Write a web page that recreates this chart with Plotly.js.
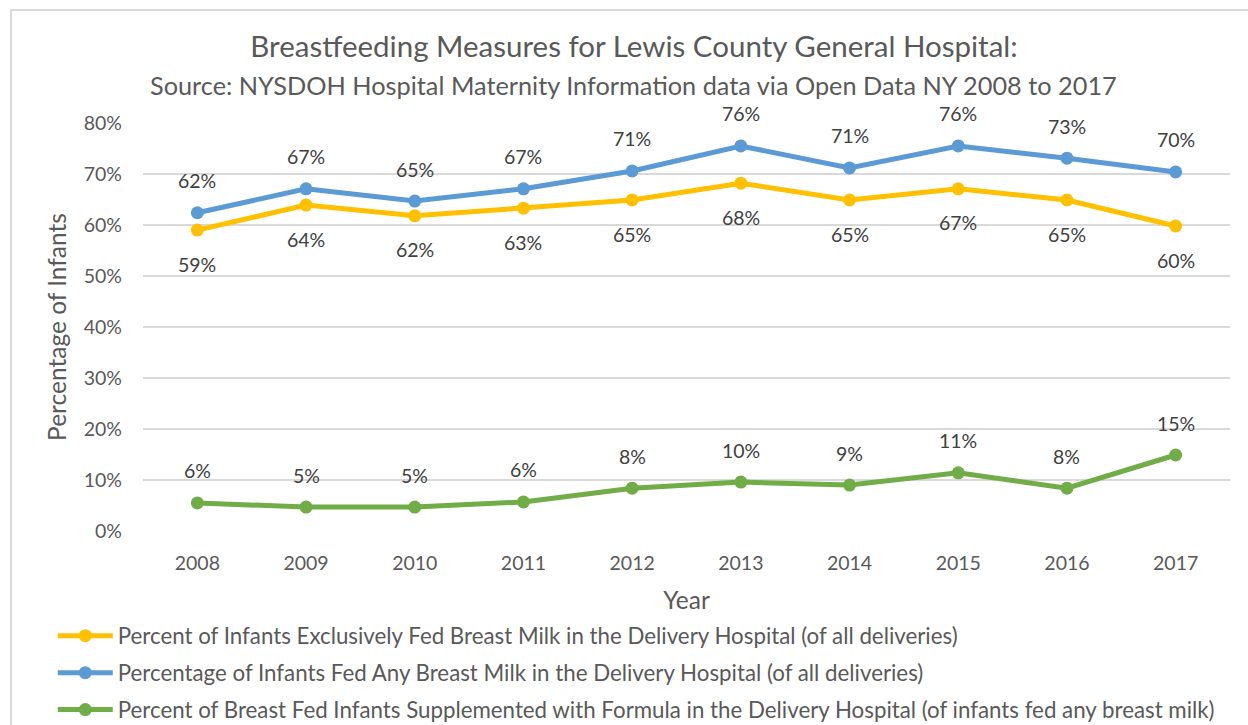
<!DOCTYPE html>
<html>
<head>
<meta charset="utf-8">
<script src="https://cdn.plot.ly/plotly-3.0.1.min.js"></script>
<style>
  body { margin: 0; background: white; }
  #chart { width: 1248px; height: 725px; position: absolute; left: 0; top: 0; }
  #frame { position: absolute; left: 10px; top: 9px; width: 1300px; height: 800px;
           border-left: 2px solid #d9d9d9; border-top: 2px solid #d9d9d9; pointer-events: none; }
</style>
</head>
<body>
<div id="chart"></div>
<div id="frame"></div>
<script>
const years = ['2008', '2009', '2010', '2011', '2012', '2013', '2014', '2015', '2016', '2017'];

const exclusiveName = 'Percent of Infants Exclusively Fed Breast Milk in the Delivery Hospital (of all deliveries)';
const anyName = 'Percentage of Infants Fed Any Breast Milk in the Delivery Hospital (of all deliveries)';
const supplName = 'Percent of Breast Fed Infants Supplemented with Formula in the Delivery Hospital (of infants fed any breast milk)';

const exclusive = [0.590, 0.639, 0.618, 0.633, 0.649, 0.682, 0.649, 0.671, 0.649, 0.598];
const anyMilk = [0.624, 0.671, 0.647, 0.671, 0.706, 0.755, 0.712, 0.755, 0.731, 0.704];
const supplemented = [0.055, 0.047, 0.047, 0.057, 0.084, 0.096, 0.090, 0.114, 0.084, 0.149];

const FONT = 'Lato, "Open Sans", sans-serif';
const GREY = '#595959';

function series(name, values, color, group) {
  return {
    x: years,
    y: values,
    name: name,
    legendgroup: group,
    type: 'scatter',
    mode: 'lines+markers',
    line: { color: color, width: 5 },
    marker: { color: color, size: 13 },
    hoverinfo: 'skip'
  };
}

// category axis: annotations take the category index, not the label
function labels(values, shift) {
  return values.map((v, i) => ({
    x: i,
    y: v,
    xref: 'x',
    yref: 'y',
    text: Math.round(v * 100) + '%',
    showarrow: false,
    yshift: shift,
    font: { family: FONT, size: 19.5, color: '#404040' }
  }));
}

const traces = [
  series(exclusiveName, exclusive, '#FFC000', 'a'),
  series(anyName, anyMilk, '#5B9BD5', 'b'),
  series(supplName, supplemented, '#70AD47', 'c')
];

const annotations = [].concat(
  labels(anyMilk, 32),
  labels(exclusive, -34),
  labels(supplemented, 32),
  [{
    xref: 'paper', yref: 'paper',
    x: 0.4517, y: 1.093, yanchor: 'middle',
    text: 'Source: NYSDOH Hospital Maternity Information data via Open Data NY 2008 to 2017',
    showarrow: false,
    font: { family: FONT, size: 25.3, color: GREY }
  }]
);

const layout = {
  width: 1248,
  height: 725,
  margin: { l: 143, r: 18, t: 123, b: 194, autoexpand: false },
  paper_bgcolor: 'white',
  plot_bgcolor: 'white',
  font: { family: FONT, color: GREY },
  title: {
    text: 'Breastfeeding Measures for Lewis County General Hospital:',
    x: 0.508, xanchor: 'center',
    y: 1 - 47 / 725, yref: 'container', yanchor: 'middle',
    font: { family: FONT, size: 29.5, color: GREY }
  },
  xaxis: {
    type: 'category',
    range: [-0.5, 9.5],
    showgrid: false,
    zeroline: false,
    showline: false,
    ticks: '',
    ticklabelstandoff: 18,
    tickfont: { family: FONT, size: 19.5, color: GREY },
    title: { text: 'Year', standoff: 19, font: { family: FONT, size: 24.5, color: GREY } }
  },
  yaxis: {
    range: [0, 0.8],
    dtick: 0.1,
    tickformat: '.0%',
    gridcolor: '#d9d9d9',
    gridwidth: 1.5,
    zeroline: false,
    showline: false,
    ticks: '',
    ticklabelstandoff: 20,
    tickfont: { family: FONT, size: 19.5, color: GREY },
    title: { text: 'Percentage of Infants', standoff: 10, font: { family: FONT, size: 24.5, color: GREY } }
  },
  showlegend: true,
  legend: {
    x: -0.083, xanchor: 'left',
    y: -0.205, yanchor: 'top',
    orientation: 'v',
    traceorder: 'grouped',
    tracegroupgap: 5,
    itemwidth: 55,
    font: { family: FONT, size: 22.3, color: GREY },
    bgcolor: 'rgba(0,0,0,0)'
  },
  annotations: annotations
};

Plotly.newPlot('chart', traces, layout, { displayModeBar: false, staticPlot: true });
</script>
</body>
</html>
